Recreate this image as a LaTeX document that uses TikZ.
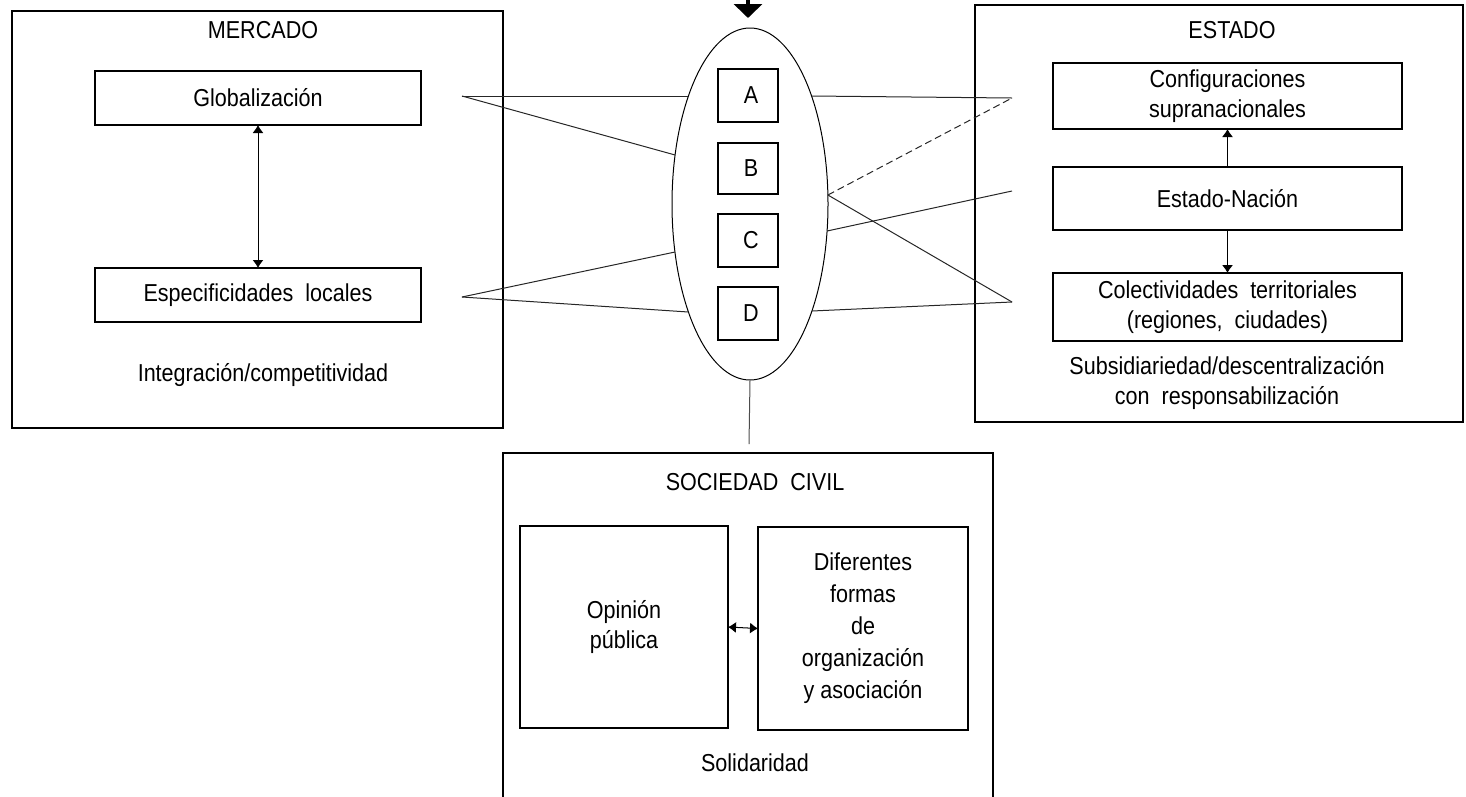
\documentclass[tikz,border=0pt]{standalone}
\usepackage{fontspec}
\setmainfont[FakeStretch=0.88]{Liberation Sans}
\usetikzlibrary{shapes.geometric,arrows.meta}
\tikzset{
  txt/.style={font=\fontsize{24.5}{30}\selectfont, inner sep=0pt, align=center},
  bigbox/.style={draw, line width=2pt, inner sep=0pt, outer sep=0pt},
  inbox/.style={draw, line width=1.2pt, inner sep=0pt, outer sep=0pt, align=center,
    font=\fontsize{24.5}{30}\selectfont},
  lettbox/.style={inbox, minimum width=60pt},
  conn/.style={line width=1pt, black!85},
  dbl/.style={line width=1pt, {Latex[length=8pt,width=11pt]}-{Latex[length=8pt,width=11pt]}},
  sgl/.style={line width=1pt, -{Latex[length=8pt,width=11pt]}}
}
\begin{document}
\begin{tikzpicture}[x=1pt,y=-1pt]
\useasboundingbox (0,0) rectangle (1466,796);
\clip (0,0) rectangle (1466,796);

% MERCADO
\node[bigbox, minimum width=491pt, minimum height=417pt] (merc) at (257.5,219.5) {};
\node[txt] (mercT) at (263,30) {MERCADO};
\node[inbox, minimum width=326pt, minimum height=54pt] (glob) at (258,98) {Globalización};
\node[inbox, minimum width=326pt, minimum height=54pt] (esp) at (258,295) {Especificidades\ \ locales};
\node[txt] (integ) at (263,375) {Integración/competitividad};
\draw[dbl] (glob.south) -- (esp.north);

% ESTADO
\node[bigbox, minimum width=488pt, minimum height=417pt] (est) at (1219,213.5) {};
\node[txt] (estT) at (1232,30) {ESTADO};
\node[inbox, minimum width=349pt, minimum height=66pt] (conf) at (1227.5,96) {Configuraciones\\supranacionales};
\node[inbox, minimum width=349pt, minimum height=63pt] (estn) at (1227.5,198.5) {Estado-Nación};
\node[inbox, minimum width=349pt, minimum height=68pt] (colec) at (1227.5,307) {Colectividades\ \ territoriales\\(regiones,\ \ ciudades)};
\node[txt] (subs) at (1227,383) {Subsidiariedad/descentralización\\con\ \ responsabilización};
\draw[sgl] (estn.north) -- (conf.south);
\draw[sgl] (estn.south) -- (colec.north);

% Ellipse with A-D
\node[draw, ellipse, line width=1pt, minimum width=156pt, minimum height=352pt, inner sep=0pt] (ell) at (750,204) {};
\node[lettbox, minimum height=53pt] (A) at (748,95.5) {\ A};
\node[lettbox, minimum height=51pt] (B) at (748,168.5) {\ B};
\node[lettbox, minimum height=53pt] (C) at (748,240.5) {\ C};
\node[lettbox, minimum height=53pt] (D) at (748,313.5) {\ D};

% top arrow
\coordinate (topS) at (748,-12);
\coordinate (topE) at (748,18);
\draw[line width=4pt, -{Triangle[length=14pt,width=28pt]}] (topS) -- (topE);

% connector points
\coordinate (gL) at (462,96);
\coordinate (eL) at (462,297);
\coordinate (p1) at (688.4,96);
\coordinate (p2) at (675.1,155);
\coordinate (p3) at (675.0,252);
\coordinate (p4) at (688.4,312);
\coordinate (q1) at (811.6,96);
\coordinate (q2) at (827.9,195);
\coordinate (q3) at (827.1,231);
\coordinate (q4) at (811.9,311);
\coordinate (cR) at (1012,98);
\coordinate (nR) at (1012,191);
\coordinate (tR) at (1012,302);

\draw[conn] (gL) -- (p1);
\draw[conn] (gL) -- (p2);
\draw[conn] (eL) -- (p3);
\draw[conn] (eL) -- (p4);
\draw[conn] (q1) -- (cR);
\draw[conn, dash pattern=on 7pt off 4pt] (q2) -- (cR);
\draw[conn] (q2) -- (tR);
\draw[conn] (q3) -- (nR);
\draw[conn] (q4) -- (tR);

% SOCIEDAD CIVIL
\coordinate (socTL) at (503,453);
\coordinate (socTR) at (993,453);
\coordinate (socBL) at (503,800);
\coordinate (socBR) at (993,800);
\draw[line width=1.6pt] (socBL) -- (socTL) -- (socTR) -- (socBR);
\coordinate (vEnd) at (749,444);
\draw[line width=1pt, black!70] (ell.south) -- (vEnd);
\node[txt] (socT) at (755,482) {SOCIEDAD\ \ CIVIL};
\node[inbox, minimum width=208pt, minimum height=202pt] (opin) at (624,627) {Opinión\\pública};
\node[inbox, minimum width=210pt, minimum height=203pt, font=\fontsize{24.5}{32}\selectfont] (dif) at (863,628.5) {Diferentes\\formas\\de\\organización\\y asociación};
\draw[dbl] (opin.east) -- (dif.west);
\node[txt] (solid) at (755,763) {Solidaridad};
\end{tikzpicture}
\end{document}
